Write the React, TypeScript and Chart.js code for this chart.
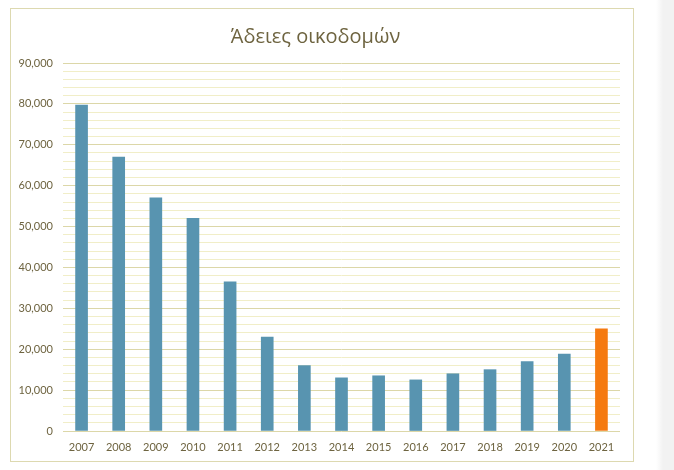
import React, { useEffect, useRef } from "react";
import { Chart, registerables } from "chart.js";

Chart.register(...registerables);

const TITLE = "Άδειες οικοδομών";
const years = ["2007", "2008", "2009", "2010", "2011", "2012", "2013", "2014", "2015", "2016", "2017", "2018", "2019", "2020", "2021"];
const permits = [79700, 67000, 57000, 52000, 36500, 23000, 16000, 13000, 13500, 12500, 14000, 15000, 17000, 18800, 25000];
const highlightYear = "2021";
const yMax = 90000;
const majorStep = 10000;
const minorStep = 2000;

const BLUE = "#5894b0";
const ORANGE = "#f57a10";
const TEXT = "#6e6440";

export default function App() {
  const ref = useRef<HTMLCanvasElement | null>(null);

  useEffect(() => {
    if (!ref.current) return;
    const chart = new Chart(ref.current, {
      type: "bar",
      data: {
        labels: years,
        datasets: [
          {
            data: permits,
            backgroundColor: years.map((y) => (y === highlightYear ? ORANGE : BLUE)),
            barThickness: 12,
            borderWidth: 0,
          },
        ],
      },
      options: {
        animation: false,
        responsive: false,
        maintainAspectRatio: false,
        layout: { padding: { left: 0, right: 13, top: 0, bottom: 0 } },
        plugins: {
          legend: { display: false },
          tooltip: { enabled: false },
          title: {
            display: true,
            text: TITLE,
            color: TEXT,
            font: { family: "'Open Sans', sans-serif", size: 20, weight: "normal" as any },
            padding: { top: 16, bottom: 14 },
          },
        },
        scales: {
          x: {
            grid: { display: false },
            border: { display: false },
            ticks: {
              color: TEXT,
              font: { family: "Lato, sans-serif", size: 11 },
              padding: 2,
              maxRotation: 0,
            },
            afterFit: (s: any) => {
              s.height = 30;
            },
          },
          y: {
            min: 0,
            max: yMax,
            border: { display: false },
            grid: {
              drawTicks: false,
              color: (ctx: any) =>
                ctx.tick && ctx.tick.value % majorStep === 0 ? "#dcd7a8" : "#f1eec8",
              lineWidth: 1,
            },
            ticks: {
              stepSize: minorStep,
              color: TEXT,
              font: { family: "Lato, sans-serif", size: 11 },
              padding: 10,
              autoSkip: false,
              callback: (v: any) =>
                Number(v) % majorStep === 0 ? Number(v).toLocaleString("en-US") : "",
            },
            afterFit: (s: any) => {
              s.width = 52;
            },
          },
        },
      },
    });
    return () => chart.destroy();
  }, []);

  return (
    <div>
      <div
        style={{
          position: "absolute",
          left: 10,
          top: 8,
          width: 624,
          height: 454,
          border: "1px solid #ddd9b0",
          boxSizing: "border-box",
          background: "#fff",
        }}
      >
        <canvas ref={ref} width={622} height={452} style={{ display: "block" }} />
      </div>
      <div
        style={{
          position: "absolute",
          left: 656,
          top: 0,
          width: 18,
          height: 470,
          background: "linear-gradient(to right, #ffffff, #f2f2f2 40%, #f2f2f2)",
        }}
      />
    </div>
  );
}
